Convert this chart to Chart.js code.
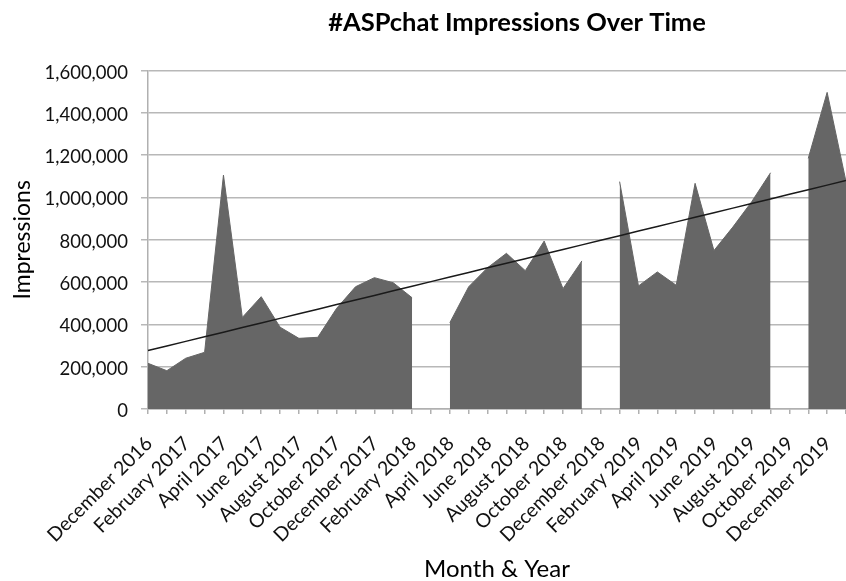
<!DOCTYPE html>
<html>
<head>
<meta charset="utf-8">
<script src="https://cdn.jsdelivr.net/npm/chart.js@4.4.1/dist/chart.umd.min.js"></script>
<style>
  html, body { margin: 0; padding: 0; background: #ffffff; }
  #c { display: block; }
</style>
</head>
<body>
<canvas id="c" width="846" height="581"></canvas>
<script>
// ---- data ----
const months = [
  "December 2016", "January 2017", "February 2017", "March 2017", "April 2017", "May 2017",
  "June 2017", "July 2017", "August 2017", "September 2017", "October 2017", "November 2017",
  "December 2017", "January 2018", "February 2018", "March 2018", "April 2018", "May 2018",
  "June 2018", "July 2018", "August 2018", "September 2018", "October 2018", "November 2018",
  "December 2018", "January 2019", "February 2019", "March 2019", "April 2019", "May 2019",
  "June 2019", "July 2019", "August 2019", "September 2019", "October 2019", "November 2019",
  "December 2019", "January 2020"
];
const impressions = [
  216000, 181000, 240000, 268000, 1106000, 433000,
  531000, 387000, 334000, 339000, 476000, 578000,
  621000, 597000, 526000, null, 408000, 578000,
  668000, 736000, 654000, 794000, 569000, 700000,
  null, 1075000, 582000, 648000, 585000, 1067000,
  749000, 860000, 980000, 1117000, null, 1185000,
  1497000, 1075000
];
const yTickValues = [0, 200000, 400000, 600000, 800000, 1000000, 1200000, 1400000, 1600000];
const chartTitle = "#ASPchat Impressions Over Time";
const xTitle = "Month & Year";
const yTitle = "Impressions";

// linear trendline (least squares over the non-empty months, like the spreadsheet trendline)
function linearTrend(values) {
  let n = 0, sx = 0, sy = 0, sxx = 0, sxy = 0;
  values.forEach((v, i) => {
    if (v === null) return;
    n++; sx += i; sy += v; sxx += i * i; sxy += i * v;
  });
  const slope = (n * sxy - sx * sy) / (n * sxx - sx * sx);
  const icpt = (sy - slope * sx) / n;
  return values.map((_, i) => icpt + slope * i);
}
const trend = linearTrend(impressions);

const FONT = "Lato";

const titleShift = {
  id: 'titleShift',
  afterLayout(chart) {
    const tb = chart.titleBlock;
    if (!tb) return;
    const d = 517 - (tb.left + tb.right) / 2;
    tb.left += d; tb.right += d;
  }
};

new Chart(document.getElementById('c'), {
  type: 'line',
  data: {
    labels: months,
    datasets: [
      {
        label: 'Trend',
        data: trend,
        borderColor: '#1a1a1a',
        borderWidth: 1.5,
        pointRadius: 0,
        fill: false,
        order: 1
      },
      {
        label: 'Impressions',
        data: impressions,
        borderColor: '#666666',
        backgroundColor: '#666666',
        borderWidth: 1,
        pointRadius: 0,
        fill: 'origin',
        spanGaps: false,
        tension: 0,
        order: 2
      }
    ]
  },
  options: {
    responsive: false,
    animation: false,
    devicePixelRatio: 1,
    layout: { padding: { top: 0, left: 0, right: 0, bottom: 0 } },
    plugins: {
      legend: { display: false },
      tooltip: { enabled: false },
      title: {
        display: true,
        text: chartTitle,
        color: '#000000',
        font: { family: FONT, size: 25.5, weight: 'bold' },
        padding: { top: 7, bottom: 33 }
      }
    },
    scales: {
      x: {
        type: 'category',
        offset: false,
        grid: { display: true, drawOnChartArea: false, drawTicks: true, tickLength: 5, color: '#b0b0b0', lineWidth: 1.5 },
        border: { display: true, color: '#b0b0b0', width: 1.5 },
        ticks: {
          autoSkip: false,
          maxRotation: 45,
          minRotation: 45,
          padding: 18,
          labelOffset: 1,
          color: '#111111',
          font: { family: FONT, size: 19.5 },
          callback: function (val, i) { return i % 2 === 0 ? months[i] : ''; }
        },
        title: {
          display: true,
          text: xTitle,
          color: '#000000',
          font: { family: FONT, size: 24 },
          padding: { top: 0, bottom: -3 }
        },
        afterFit(scale) {
          scale.height = 172;
          scale.paddingLeft = 0;
          scale.paddingRight = 0;
        }
      },
      y: {
        min: 0,
        max: 1600000,
        afterBuildTicks(scale) { scale.ticks = yTickValues.map(v => ({ value: v })); },
        grid: { display: true, drawTicks: true, tickLength: 7, color: '#b8b8b8', lineWidth: 1.5 },
        border: { display: true, color: '#b0b0b0', width: 1.5 },
        ticks: {
          padding: 13,
          labelOffset: 2,
          color: '#111111',
          font: { family: FONT, size: 18.5 },
          callback: (v) => Number(v).toLocaleString('en-US')
        },
        title: {
          display: true,
          text: yTitle,
          color: '#000000',
          font: { family: FONT, size: 23 },
          padding: { top: 9, bottom: 0 }
        },
        afterFit(scale) { scale.width = 148; }
      }
    }
  },
  plugins: [titleShift]
});
</script>
</body>
</html>
